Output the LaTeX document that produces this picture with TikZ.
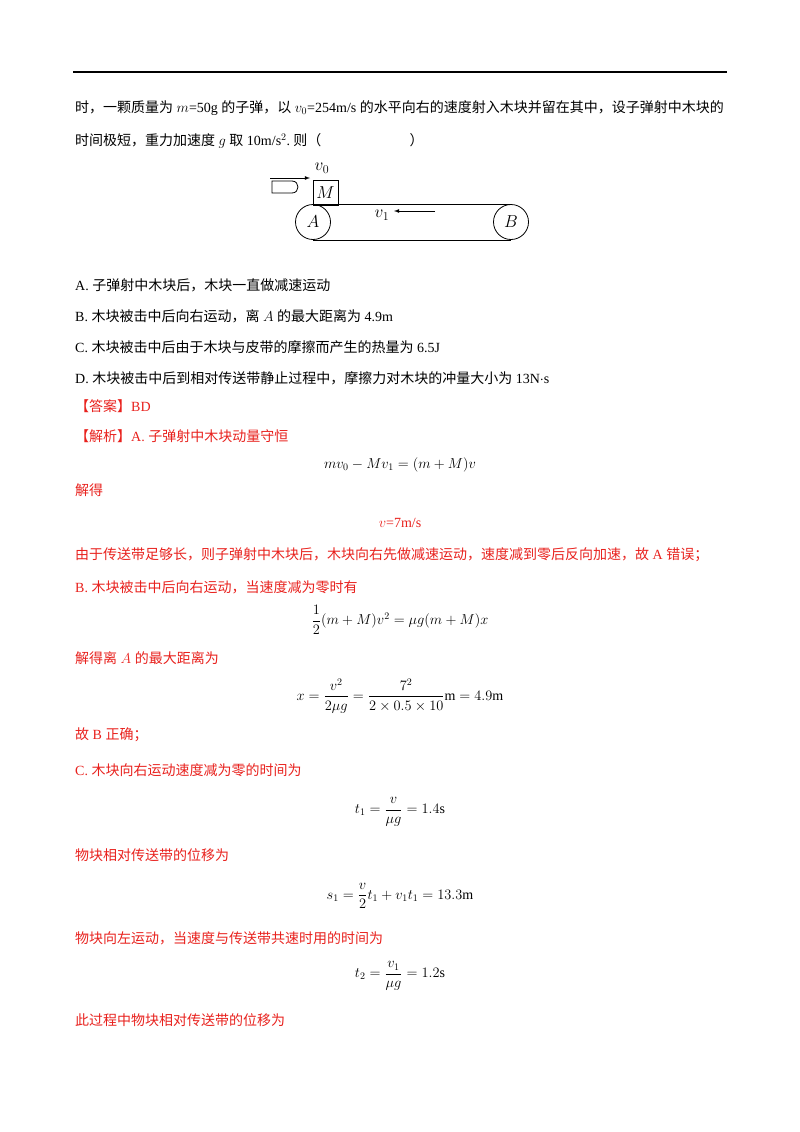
\documentclass[tikz,border=0pt]{standalone}
\usepackage{amsmath}
\usepackage{fontspec}
\setmainfont{Liberation Serif}
\newfontfamily\cjk{Noto Sans CJK SC}
\definecolor{ans}{HTML}{E8211D}
\begin{document}
\begin{tikzpicture}[x=1pt,y=-1pt,
  txt/.style={anchor=west,inner sep=0pt,font=\fontsize{14}{16}\selectfont},
  red/.style={txt,text=ans},
  eq/.style={inner sep=0pt,font=\fontsize{14}{16}\selectfont},
  fig/.style={inner sep=0pt,font=\fontsize{17}{19}\selectfont}]
\useasboundingbox (0,0) rectangle (800,1132);
\draw[line width=1.2pt] (73,72) -- (727,72);
\node[txt] (l1) at (75,108) {\cjk 时，一颗质量为\rmfamily\ $m$=50g \cjk 的子弹，以\rmfamily\ $v_0$=254m/s \cjk 的水平向右的速度射入木块并留在其中，设子弹射中木块的};
\node[txt] (l2) at (75,141) {\cjk 时间极短，重力加速度\rmfamily\ $g$ \cjk 取\rmfamily\ 10m/s$^2$.\cjk\ 则（\hspace{6.3em}）};
% figure
\draw[thick,-latex] (270,178) -- (310,178);
\node[fig] (v0) at (322,168) {$v_0$};
\draw[thick] (272,181) -- (292,181) .. controls (300,181) and (300,193) .. (292,193) -- (272,193) -- cycle;
\node[draw,thick,minimum width=25pt,minimum height=25pt,inner sep=0pt,fig] (M) at (325.5,192.5) {$M$};
\node[draw,thick,circle,minimum size=35pt,inner sep=0pt,fig] (A) at (313,222) {$A$};
\node[draw,thick,circle,minimum size=35pt,inner sep=0pt,fig] (B) at (511,222) {$B$};
\draw[thick] (A.north) -- (B.north);
\draw[thick] (A.south) -- (B.south);
\node[fig] (v1) at (382,215) {$v_1$};
\draw[thick,-latex] (435,211) -- (394,211);
% options
\node[txt] (oA) at (75,285) {\rmfamily A.\ \cjk 子弹射中木块后，木块一直做减速运动};
\node[txt] (oB) at (75,316) {\rmfamily B.\ \cjk 木块被击中后向右运动，离\rmfamily\ $A$ \cjk 的最大距离为\rmfamily\ 4.9m};
\node[txt] (oC) at (75,347) {\rmfamily C.\ \cjk 木块被击中后由于木块与皮带的摩擦而产生的热量为\rmfamily\ 6.5J};
\node[txt] (oD) at (75,378) {\rmfamily D.\ \cjk 木块被击中后到相对传送带静止过程中，摩擦力对木块的冲量大小为\rmfamily\ 13N$\cdot$s};
\node[red] (ans) at (75,406) {\cjk 【答案】\rmfamily BD};
\node[red] (jx) at (75,436) {\cjk 【解析】\rmfamily A.\ \cjk 子弹射中木块动量守恒};
\node[eq] (e1) at (400,465) {$mv_0-Mv_1=(m+M)v$};
\node[red] (jd) at (75,490) {\cjk 解得};
\node[eq,text=ans] (e2) at (400,523) {$v$=7m/s};
\node[red] (r1) at (75,555) {\cjk 由于传送带足够长，则子弹射中木块后，木块向右先做减速运动，速度减到零后反向加速，故\rmfamily\ A \cjk 错误；};
\node[red] (r2) at (75,587) {\rmfamily B.\ \cjk 木块被击中后向右运动，当速度减为零时有};
\node[eq] (e3) at (400,620) {$\dfrac12(m+M)v^2=\mu g(m+M)x$};
\node[red] (r3) at (75,658) {\cjk 解得离\rmfamily\ $A$ \cjk 的最大距离为};
\node[eq] (e4) at (400,696) {$x=\dfrac{v^2}{2\mu g}=\dfrac{7^2}{2\times0.5\times10}\mathrm{m}=4.9\mathrm{m}$};
\node[red] (r4) at (75,735) {\cjk 故\rmfamily\ B \cjk 正确；};
\node[red] (r5) at (75,770) {\rmfamily C.\ \cjk 木块向右运动速度减为零的时间为};
\node[eq] (e5) at (400,812) {$t_1=\dfrac{v}{\mu g}=1.4\mathrm{s}$};
\node[red] (r6) at (75,855) {\cjk 物块相对传送带的位移为};
\node[eq] (e6) at (400,896) {$s_1=\dfrac{v}{2}t_1+v_1t_1=13.3\mathrm{m}$};
\node[red] (r7) at (75,938) {\cjk 物块向左运动，当速度与传送带共速时用的时间为};
\node[eq] (e7) at (400,976) {$t_2=\dfrac{v_1}{\mu g}=1.2\mathrm{s}$};
\node[red] (r8) at (75,1020) {\cjk 此过程中物块相对传送带的位移为};
\end{tikzpicture}
\end{document}
